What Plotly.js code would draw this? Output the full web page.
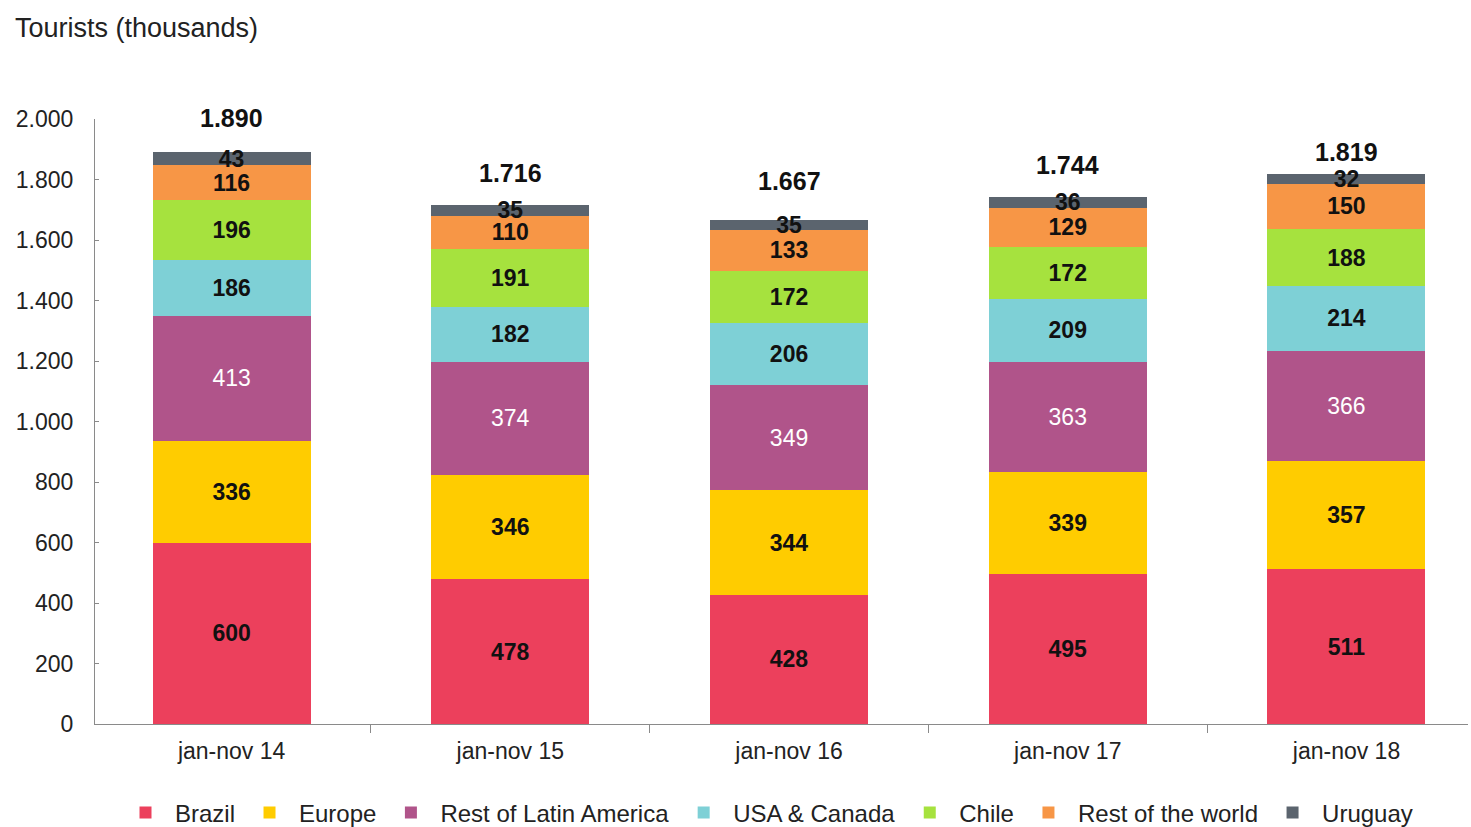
<!DOCTYPE html>
<html>
<head>
<meta charset="utf-8">
<script src="https://cdn.plot.ly/plotly-3.0.1.min.js"></script>
<style>html,body{margin:0;padding:0;background:#fff;}#chart{width:1471px;height:827px;}</style>
</head>
<body>
<div id="chart"></div>
<script>
const categories = ["jan-nov 14", "jan-nov 15", "jan-nov 16", "jan-nov 17", "jan-nov 18"];
const brazil = [600, 478, 428, 495, 511];
const europe = [336, 346, 344, 339, 357];
const restLatinAmerica = [413, 374, 349, 363, 366];
const usaCanada = [186, 182, 206, 209, 214];
const chile = [196, 191, 172, 172, 188];
const restOfWorld = [116, 110, 133, 129, 150];
const uruguay = [43, 35, 35, 36, 32];
const totals = [1890, 1716, 1667, 1744, 1819];
const yTicks = [0, 200, 400, 600, 800, 1000, 1200, 1400, 1600, 1800, 2000];

// style: vertical offset (px) of each total label above its bar
const totalLabelShift = [18, 16, 23, 15, 6];

const FONT = "Liberation Sans, Arial, sans-serif";
const series = [
  {name: "Brazil", y: brazil, color: "#EC405C", tc: "#111", bold: true},
  {name: "Europe", y: europe, color: "#FFCC00", tc: "#111", bold: true},
  {name: "Rest of Latin America", y: restLatinAmerica, color: "#B0548A", tc: "#fff", bold: false},
  {name: "USA & Canada", y: usaCanada, color: "#7ED0D6", tc: "#111", bold: true},
  {name: "Chile", y: chile, color: "#A6E23E", tc: "#111", bold: true},
  {name: "Rest of the world", y: restOfWorld, color: "#F79646", tc: "#111", bold: true},
  {name: "Uruguay", y: uruguay, color: "#5B646E", tc: "#111", bold: true}
];

const traces = series.map(s => ({
  type: "bar",
  name: s.name,
  x: categories,
  y: s.y,
  marker: {color: s.color, line: {width: 0}},
  text: s.y.map(v => String(v)),
  texttemplate: "%{text}",
  textposition: "inside",
  insidetextanchor: "middle",
  textangle: 0,
  constraintext: "none",
  cliponaxis: false,
  textfont: {family: FONT, size: 23, color: s.tc, weight: s.bold ? "bold" : "normal"},
  hoverinfo: "skip"
}));

const fmt = v => {
  const s = String(v);
  return s.length > 3 ? s.slice(0, s.length - 3) + "." + s.slice(-3) : s;
};

const annotations = categories.map((c, i) => ({
  x: c, y: totals[i], xref: "x", yref: "y",
  text: "<b>" + fmt(totals[i]) + "</b>",
  showarrow: false, yanchor: "bottom", yshift: totalLabelShift[i],
  font: {family: FONT, size: 25, color: "#111"}
}));

const layout = {
  width: 1471, height: 827,
  paper_bgcolor: "#fff", plot_bgcolor: "#fff",
  margin: {l: 95, r: 3, t: 119, b: 103},
  separators: ",.",
  barmode: "stack",
  bargap: 0.433,
  showlegend: true,
  title: {
    text: "Tourists (thousands)",
    xref: "container", yref: "container",
    x: 15 / 1471, xanchor: "left",
    y: 1 - 28 / 827, yanchor: "middle",
    font: {family: FONT, size: 27, color: "#222"}
  },
  xaxis: {
    type: "category",
    range: [-0.49, 4.436],
    showline: true, linecolor: "#8a8a8a", linewidth: 1,
    ticks: "outside", tickson: "boundaries", ticklen: 8, tickcolor: "#8a8a8a",
    showgrid: false, zeroline: false,
    tickfont: {family: FONT, size: 23, color: "#222"},
    ticklabelstandoff: 6
  },
  yaxis: {
    range: [0, 2000],
    tickvals: yTicks,
    tickformat: ",d",
    showline: true, linecolor: "#8a8a8a", linewidth: 1,
    ticks: "inside", ticklen: 4, tickcolor: "#8a8a8a",
    showgrid: false, zeroline: false,
    tickfont: {family: FONT, size: 23, color: "#222"},
    ticklabelstandoff: 16
  },
  legend: {
    orientation: "h",
    xref: "container", yref: "container",
    x: 116 / 1471, xanchor: "left",
    y: 1 - 813 / 827, yanchor: "middle",
    traceorder: "normal",
    font: {family: FONT, size: 24, color: "#222"},
    itemwidth: 49,
    bgcolor: "rgba(0,0,0,0)"
  },
  annotations: annotations
};

Plotly.newPlot("chart", traces, layout, {displayModeBar: false, staticPlot: true});
</script>
</body>
</html>
